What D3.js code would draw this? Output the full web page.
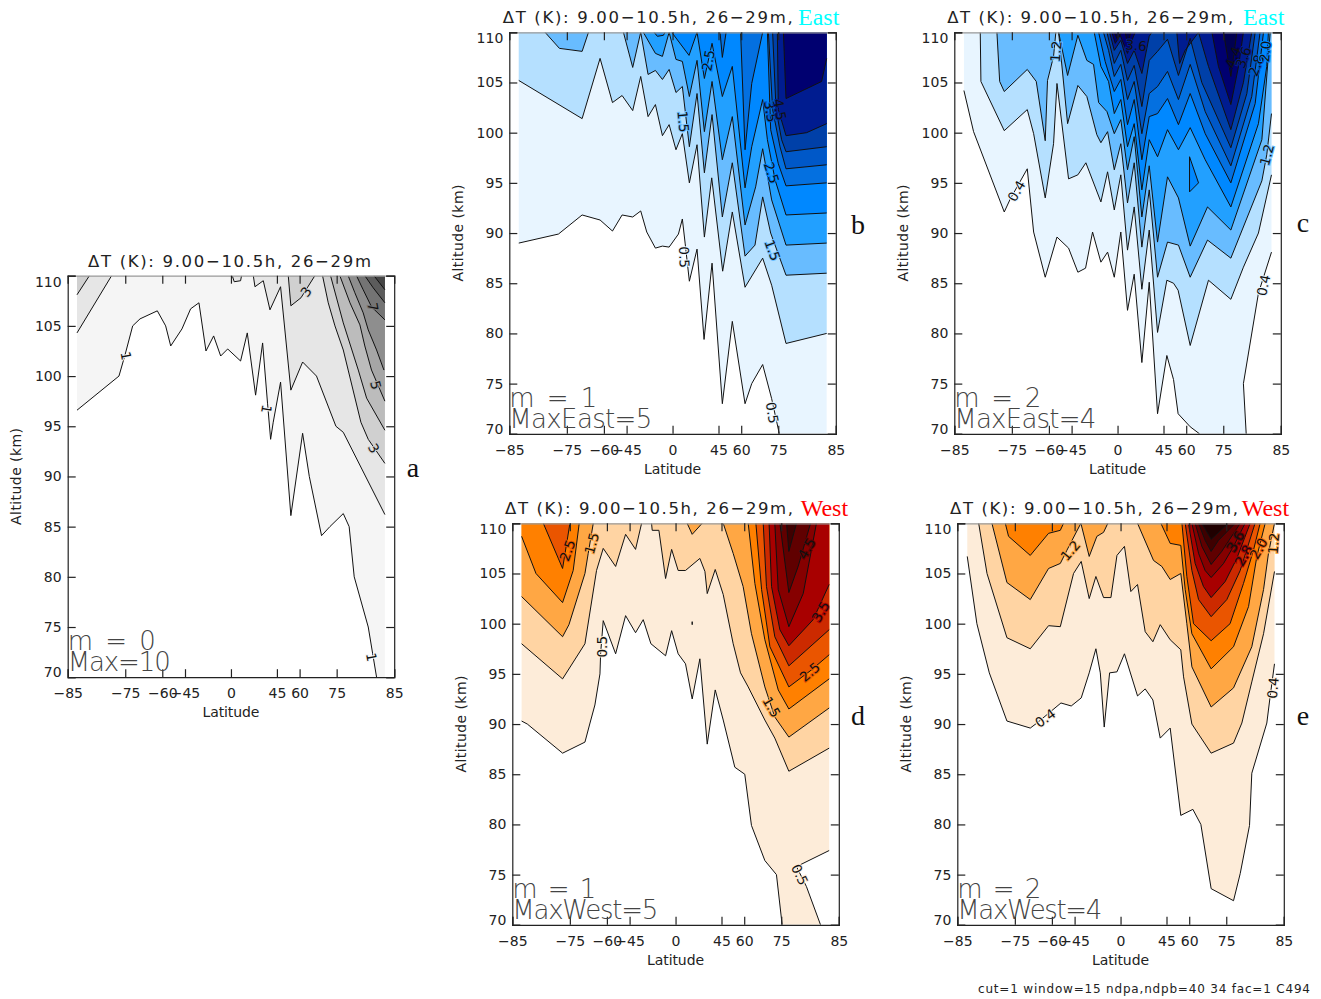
<!DOCTYPE html>
<html>
<head>
<meta charset="utf-8">
<script src="https://cdn.jsdelivr.net/npm/d3@7"></script>
<style>
  body { margin: 0; background: #fff; }
  text { font-family: "DejaVu Sans", sans-serif; fill: #222; }
  .serif { font-family: "Liberation Serif", serif; }
  .big { font-family: "DejaVu Sans", sans-serif; font-weight: 200; fill: #444; font-size: 26px; }
  .clab { font-size: 13.5px; stroke-width: 2px; paint-order: stroke; fill: #111; }
  .tick text { font-size: 14px; }
  .tick line, .domain { stroke: #222; stroke-width: 1.2px; }
  .topaxis .domain { stroke: #999; }
</style>
</head>
<body>
<svg id="chart" width="1321" height="999"></svg>
<script>
// Latitude axis is Mercator stretched: contour points are [stretched latitude (% of 85 deg), altitude km]
const latTicks = [-85, -75, -60, -45, 0, 45, 60, 75, 85];
const altTicks = [70, 75, 80, 85, 90, 95, 100, 105, 110];

const grays = ['#ffffff', '#f5f5f5', '#e6e6e6', '#d0d0d0', '#bcbcbc', '#a6a6a6', '#8e8e8e', '#747474', '#5c5c5c', '#454545'];
const blues = ['#ffffff', '#e8f5ff', '#b5e0ff', '#68bcff', '#22a0ff', '#0088ff', '#0470e0', '#0058c8', '#0040a8', '#001c90', '#000070', '#000050'];
const oranges = ['#ffffff', '#fdecd9', '#ffd4a3', '#ffa744', '#ff8000', '#ea5500', '#cc2a00', '#a80000', '#860000', '#600000', '#3f0000', '#200000'];

const levelsA = [1, 2, 3, 4, 5, 6, 7, 8, 9];
const contoursA = [
  [[-94.3,96.6],[-68.6,100],[-64.9,102.1],[-60.2,105],[-55.7,105.7],[-45.1,106.5],[-40,105],[-36.9,103],[-30,104.7],[-24.7,106.7],[-19.6,107.3],[-15.3,102.5],[-10.6,104],[-6.3,102],[-2,102.7],[5.9,101.5],[10,104.3],[15.1,98.1],[19.4,103.3],[22.4,97.3],[24.3,93.7],[25.9,95.4],[30.4,99.4],[36.7,86.1],[43.9,94.3],[48,90],[55.5,84.1],[60.6,85],[68.8,86.3],[72.4,85],[75.5,80],[84.1,75],[89.2,70]],
  [[-94.3,104.3],[-73.1,110],[0.8,110],[2,109.4],[5.9,109.5],[6.5,110],[13.7,110],[14.7,108.9],[19.8,109.5],[23.9,106.6],[30.4,108.9],[36.7,98.6],[43.9,101.4],[52.4,100],[64.3,95],[68.8,94.4],[94.3,86.2]],
  [[-94.3,108.1],[-86.7,110],[35.1,110],[36.7,107],[42.9,107.8],[51.4,110],[56.1,110],[59.6,107.3],[63.7,105],[68.8,102.6],[71.8,100.6],[79.6,95.4],[84.1,93.7],[94.3,91.3]],
  [[61,110],[68.8,105.3],[78,100.6],[83.1,97.8],[94.3,94.6]],
  [[66.7,110],[72.9,107.3],[79,105.1],[82,103],[86.1,100.6],[94.3,97.5]],
  [[71.8,110],[75.9,108.3],[81,106.3],[84.1,104.6],[89.2,102.6],[93.7,100.6]],
  [[76.9,110],[81,108.6],[86.1,106.9],[94.3,105.6]],
  [[82,110],[87.1,108.8],[94.3,107.3]],
  [[87.6,110],[94.3,108.6]]
];
const labelsA = [['1',-64.3,102,80],['1',21.8,96.7,100],['3',45.9,108.4,-55],['3',87.6,92.8,60],['5',88.8,99.1,75],['7',87.1,106.9,80],['1',86.1,72,80]];

const levelsB = [0.5, 1, 1.5, 2, 2.5, 3, 3.5, 4, 4.5, 5];
const contoursB = [
  [[-94.2,89],[-69.9,89.9],[-55.4,91.8],[-44.4,91.3],[-36.8,90.2],[-30.9,91.8],[-24.4,91.6],[-19.5,92.2],[-15.8,90.1],[-10.5,88.5],[-6.2,88.7],[-2.1,88.6],[3.6,89.9],[6,91.4],[7.7,89],[10.3,85.2],[15,88.4],[19.3,79.4],[24.2,87],[30.5,73],[36.6,81.2],[44.4,73],[48.5,75],[55.2,76.9],[60.7,73.5],[65.4,70]],
  [[-94.2,105.2],[-55.4,101.4],[-44.4,107.4],[-36.8,103],[-30.9,103.7],[-24.4,102.2],[-19.5,105.6],[-15,101.6],[-10.5,102.8],[-6.2,99.7],[-2.1,100.8],[2.1,98.3],[6,99.9],[10.3,95],[15,98.8],[19.5,89.6],[24,95.5],[30.7,86.2],[36.6,92.1],[44.4,84.6],[55.2,87.5],[60.7,84.8],[69.5,79],[94.4,80]],
  [[-78.1,110],[-69.3,108.4],[-55.4,108.1],[-51.5,110],[-30.1,110],[-24.4,106.5],[-19.5,110],[-15,105.8],[-10.5,106.2],[-6.2,105.3],[-2.1,106.3],[2.1,104],[6,104.6],[10.3,98.6],[15,103.9],[19.5,96],[24.2,101.8],[30.5,91.6],[36.6,97],[44.4,87.7],[50.5,88.8],[55.2,93.6],[60.1,90],[69.5,85.8],[94.4,86]],
  [[-17.9,110],[-10.5,107.9],[-6.2,107.6],[-2.1,110],[2.1,107.3],[6,107.1],[10.3,103.6],[15,107.2],[19.5,100.1],[24.2,105.1],[30.5,97.3],[36.6,101.6],[44.4,90.8],[50.9,94.6],[55.2,98.4],[60.7,93.3],[69.5,88.8],[94.4,89]],
  [[-11.3,110],[-9.3,109.6],[-5.6,109.7],[-4.6,110],[-0.5,110],[10.1,107.7],[15,110],[19.5,105.4],[24.2,108.9],[30.5,103.6],[36.6,106.6],[44.4,94.5],[48.5,98.6],[55.2,103.3],[58.1,99.3],[62.8,95.3],[69.5,91.8],[94.4,92]],
  [[29.1,110],[30.5,107.5],[32.8,110],[41.7,110],[44.4,98.3],[48.5,104.9],[55.2,110],[58.1,110],[60.1,100.3],[64.8,96.9],[69.5,94.7],[94.4,95]],
  [[58.7,110],[61.3,102.3],[65.8,98.6],[69.5,96.4],[94.4,96.8]],
  [[61.3,110],[63.4,102.3],[66.8,99.3],[69.5,98.1],[94.4,98.6]],
  [[64.2,110],[64.8,102.3],[69.5,99.7],[82.1,100],[94.4,100.9]],
  [[67.9,110],[69.5,103.4],[91.3,105.1],[94.4,107.4]]
];
const labelsB = [['0.5',7.2,87.6,88],['1.5',6.6,101.1,85],['2.5',21.9,107.2,-80],['3.5',60.1,102.1,80],['4.5',65.8,102.3,80],['2.5',60.7,96,72],['1.5',61.3,88.3,70],['0.5',61.1,72.1,80]];

const levelsC = [0.4, 0.8, 1.2, 1.6, 2.0, 2.4, 2.8, 3.2, 3.6, 4.0, 4.4];
const contoursC = [
  [[-94.1,104.2],[-88.2,100.1],[-69.4,92.1],[-65.7,93.4],[-55.3,96.4],[-51.4,90.1],[-44.3,85.6],[-37.1,89.6],[-30,88.5],[-24.3,86.1],[-19.6,86.5],[-15.3,90.1],[-10.2,87.1],[-6.1,88.1],[-2,85.6],[2,90.1],[6.1,82.3],[10.2,85.9],[14.9,77.1],[19.4,85.1],[24.5,72],[30.2,77.8],[34.3,75.4],[37.1,72],[44.5,70.7],[50.2,70],[78.8,70],[77.1,75],[86.3,84],[94.3,88.1]],
  [[-84.1,110],[-83.7,105.1],[-69.4,100.2],[-55.3,102.3],[-51.4,99.9],[-44.3,93.5],[-39.2,98.9],[-37.1,104.9],[-30,95.4],[-24.3,95.8],[-19.4,97],[-10.2,93.1],[-6.1,96.1],[-2,92.3],[2,95.8],[6.1,88.3],[10.2,92.6],[14.9,84.4],[19.4,90.3],[24.5,80.1],[30.2,85.3],[34.3,85],[37.1,84.3],[44.5,78.8],[55.7,85.3],[69.4,83.4],[77.1,86.6],[86.3,90],[94.3,95.8]],
  [[-73.9,110],[-72.2,105.1],[-69.4,104.1],[-55.3,106.3],[-49.8,105.1],[-44.3,99.2],[-42.9,105.2],[-39.2,107.6],[-37.8,110],[-36.1,110],[-30.6,100.9],[-24.3,104.7],[-18.8,103.6],[-12.7,99.8],[-10.2,99],[-6.1,100.1],[-2,96.3],[2,98.9],[6.1,93],[10.2,97],[14.9,88.6],[19.4,94.3],[24.5,85.6],[30.6,89.1],[37.3,88.8],[44.5,85.6],[55.1,89.3],[69.4,87.5],[88.4,95.2],[91.4,97.8],[94.3,101.9]],
  [[-36.1,110],[-30.6,105.7],[-24.3,109.7],[-18.8,107.2],[-14.7,106.8],[-11.6,103],[-6.5,102.1],[-2,99.9],[2,101.3],[6.1,96.3],[10.2,99.6],[14.9,91.6],[19.4,96.7],[24.5,89.1],[30.6,95.6],[37.3,93.5],[44.5,88.7],[55.1,92.6],[69.4,90.3],[88.4,99.3],[93.5,110]],
  [[-14.3,110],[-10.2,106.6],[-5.5,105.1],[-2,101.9],[2,103.3],[6.1,98.6],[10.2,100.9],[14.9,94.3],[19.4,99.3],[24.5,97.6],[30.6,100.3],[37.3,98.3],[44.5,100.5],[53.7,97.3],[69.4,92.6],[86.3,100.9],[91.4,106.6],[92.4,110]],
  [[-11.6,110],[-7.6,107.1],[-2,104.1],[2,105.3],[6.1,100.8],[10.2,103.3],[14.9,97.3],[19.4,101.6],[24.5,101.9],[30.6,103.4],[37.3,100.8],[44.5,103.9],[53.7,99.9],[69.4,95],[84.3,102.9],[89.4,110]],
  [[-8.6,110],[-5.5,108.2],[-2,105.6],[2,106.8],[6.1,103.3],[10.2,105.1],[14.9,99.9],[19.4,103.9],[24.5,104.6],[30.6,106.1],[37.3,103.3],[44.5,106.8],[53.7,102.1],[69.4,96.7],[82.2,103.6],[87.3,110]],
  [[-6.5,110],[-2,106.9],[2,108.2],[6.1,105.2],[10.2,106.7],[14.9,102.6],[19.4,107.2],[24.5,108.1],[30.6,109.3],[37.3,105.7],[44.5,109.4],[51.6,105],[69.4,98.5],[79.2,103.9],[84.3,110]],
  [[-4.9,110],[-2,108.2],[2,109.2],[6.1,106.9],[10.2,108.2],[14.9,105.9],[19.4,109.6],[21,110],[36.3,110],[38,106.9],[41.4,108.2],[49.6,110],[55.7,106.6],[69.4,100.3],[77.1,105],[82.2,110]],
  [[-3.5,110],[-1.4,108.9],[1.6,109.7],[6.1,107.9],[8.8,109.2],[10.8,110],[57.8,110],[61.8,106.6],[69.4,102.8],[74.1,106.6],[77.1,110]],
  [[-2,110],[-0.4,109.4],[2.7,110],[4.7,110],[6.1,108.9],[8.2,110],[64.9,110],[69.4,105.6],[73.1,110]]
];
const islandsC = [[2, 4, [[44.1,97.6],[49.6,95],[44.1,94.1]]]];
const labelsC = [['0.4',-62,94.2,-60],['1.2',-37.8,108.1,-85],['3.6',11.4,108.7,5],['4.4',71,107.5,-70],['3.6',77.1,107.5,-70],['2.8',84.9,106.7,-70],['2.0',90.4,108.1,-85],['1.2',91.4,97.8,-75],['0.4',89.4,84.8,-78]];

const contoursD = [
  [[-94.3,90.3],[-90.8,90],[-69.2,87.1],[-55.5,88.2],[-52.4,90.1],[-49.4,91.9],[-46.3,95],[-45.9,97],[-44.3,100.3],[-36.7,97],[-30.6,100.8],[-24.5,99.1],[-19.8,100.4],[-15.1,98],[-6.1,96.8],[-2.4,99.3],[1.6,97],[6.1,96],[10.2,92.5],[14.9,96.5],[19.4,88],[24.3,93.4],[29.2,90.4],[36.3,85.7],[42.4,85],[46.5,79.9],[54.7,76.4],[61.8,75],[65.3,70],[88.8,70],[80.2,73.8],[74.1,75.8],[94.1,77.4]],
  [[-94.3,98],[-69.2,94.5],[-55.5,98],[-48.4,105.3],[-44.3,107.5],[-36.7,105.7],[-30.6,108.9],[-24.5,107.4],[-20.8,110],[-14.7,110],[-14.3,109.3],[-10.2,109.3],[-6.1,104.5],[-2.4,107.4],[1.6,105.3],[6.1,105.3],[14.9,106.5],[18,105.2],[19.4,103],[24.3,105.4],[29.2,102.9],[35.3,98],[39.8,95.1],[44.5,93.7],[54.7,90.4],[60.8,88.6],[69.4,85.3],[94.1,87.6]],
  [[-94.3,102.7],[-69.2,98.7],[-65.3,99.9],[-55.5,105],[-53.5,107],[-50.4,110],[7.1,110],[10.2,108.9],[16.3,110],[29.2,110],[35.3,107],[41.4,103.7],[46.5,99],[54.7,93.7],[60.8,90.7],[69.4,88.7],[94.1,91.6]],
  [[-94.3,108.7],[-85.5,105],[-69.2,102.1],[-62.7,105.3],[-59,110],[44.5,110],[48.6,104],[54.7,98.4],[62.9,93.4],[69.4,91.5],[94.1,94.5]],
  [[-81,110],[-69.2,105.5],[-64.7,110],[49.2,110],[52.7,103.4],[57.8,97.7],[69.4,93.7],[83.3,95.4],[94.1,96.9]],
  [[53.7,110],[55.7,103.7],[60.8,98.7],[69.4,95.8],[94.1,99.4]],
  [[57.3,110],[58.8,103.7],[63.9,99.4],[69.4,97.8],[84.3,100.4],[94.1,103.9]],
  [[60.8,110],[62.9,103.4],[69.4,99.7],[78.2,103],[86.3,110]],
  [[63.9,110],[69.4,103.1],[75.1,105.7],[82.7,110]],
  [[68,110],[69.4,107.2],[74.1,110]]
];
const islandsD = [[0, 0, [[10.2,100.2],[10.2,99.9]]]];
const labelsD = [['2.5',-66.3,107.3,-70],['1.5',-51.4,108,-75],['0.5',-44.7,97.7,-90],['4.5',80.2,107.5,-60],['3.5',88.8,101.2,-60],['2.5',82.2,95.2,-40],['1.5',58.8,91.7,60],['0.5',76.1,75,65]];

const contoursE = [
  [[-93.9,106.7],[-88,100],[-80.4,95.1],[-69.6,90.3],[-55.3,89.6],[-51.2,90.1],[-36.5,92.1],[-30.2,91.8],[-24.1,92.6],[-19.2,95.1],[-15.1,97.5],[-12.4,95.1],[-10,89.7],[-6.7,95.1],[-2.2,95.2],[2.4,97],[10.4,92.8],[15.1,93.5],[19.8,92.4],[24.3,88.6],[30.4,89.6],[36.9,80.9],[44.3,81.5],[49.2,80],[55.5,73.6],[69.2,72.4],[73.3,75.1],[79,79.9],[80.4,85.1],[89.6,90.1],[91.6,92.7],[94.3,96]],
  [[-86.9,110],[-81.8,105],[-69.6,98.6],[-55.3,97.5],[-44.1,99.8],[-36.9,99.7],[-28.8,105],[-24.1,106.2],[-19.2,102.5],[-15.1,104.7],[-10.4,102.6],[-5.9,102.6],[-2.2,106.8],[2.4,107.7],[6.3,103.2],[10.4,103.9],[15.1,99.2],[19.8,98.2],[24.3,99.9],[30.4,98.4],[36.9,97.4],[38.6,94.7],[43.7,90],[55.5,87.1],[69.2,88.1],[74.3,90.1],[80.4,94.2],[87.6,99],[94.3,105.2]],
  [[-78.8,110],[-69.6,104.1],[-55.3,102.4],[-44.1,105.5],[-36.9,106],[-32.9,107.3],[-24.3,110],[-19.2,106.7],[-14.5,108.7],[-10.4,109.1],[-7.8,110],[10.4,110],[20.2,106.3],[25.3,105.7],[30.4,104.4],[36.9,105],[40.6,100],[43.7,95.7],[55.5,91.7],[69.2,93.6],[80.4,97.7],[87.6,103.4],[90.6,107],[94.3,110]],
  [[-70.6,110],[-68.6,108.7],[-55.3,106.8],[-44.1,109],[-36.9,109.3],[-34.9,110],[24.7,110],[30.4,108],[36.9,107.8],[39.6,103.4],[43.7,99],[55.5,95.5],[69.2,97.7],[78.4,101.7],[83.5,106.7],[88.6,110]],
  [[37.6,110],[40.6,104.7],[44.7,100],[55.5,98.3],[67.1,100],[75.3,104],[81.4,107.3],[85.5,110]],
  [[39.6,110],[43.7,105.3],[47.8,102.4],[55.5,100.7],[65.1,102.4],[73.3,105.3],[82.4,110]],
  [[41.6,110],[45.7,106],[50.8,103.7],[55.5,102.6],[64.1,104.2],[71.2,106.5],[79.4,110]],
  [[43.7,110],[47.8,107],[51.8,105.3],[55.5,104.6],[63.1,106],[69.2,107.7],[76.3,110]],
  [[45.7,110],[49.8,107.7],[55.5,105.9],[62,107.2],[73.3,110]],
  [[47.8,110],[51.8,108.3],[55.5,107.2],[60,108.3],[70.2,110]],
  [[49.8,110],[55.5,108.4],[66.1,110]]
];
const labelsE = [['1.2',-30.8,107.3,-50],['0.4',-46.1,90.6,-35],['3.6',70.2,108.2,-60],['2.8',75.3,106.8,-60],['2.0',84.5,107.5,-60],['1.2',93.7,108,-85],['0.4',93.3,93.6,-85]];

const panels = [
  { id: 'a', left: 67.7, top: 275.7, levels: levelsA, contours: contoursA, labels: labelsA, colors: grays, islands: [],
    title: 'ΔT (K): 9.00−10.5h, 26−29m', titleX: 88, titleW: 283, m: 'm  =  0', mW: 88, max: 'Max=10', maxW: 103, side: [413, 477] },
  { id: 'b', left: 509.3, top: 32.3, levels: levelsB, contours: contoursB, labels: labelsB, colors: blues, islands: [],
    title: 'ΔT (K): 9.00−10.5h, 26−29m,', titleX: 502.7, titleW: 290, dir: 'East', dirX: 798, m: 'm  =  1', mW: 88, max: 'MaxEast=5', maxW: 143, side: [858, 234] },
  { id: 'c', left: 954.3, top: 32.3, levels: levelsC, contours: contoursC, labels: labelsC, colors: blues, islands: islandsC,
    title: 'ΔT (K): 9.00−10.5h, 26−29m,', titleX: 947.3, titleW: 286, dir: 'East', dirX: 1243, m: 'm  =  2', mW: 87, max: 'MaxEast=4', maxW: 142, side: [1303, 232] },
  { id: 'd', left: 512.3, top: 523.3, levels: levelsB, contours: contoursD, labels: labelsD, colors: oranges, islands: islandsD,
    title: 'ΔT (K): 9.00−10.5h, 26−29m,', titleX: 505, titleW: 288, dir: 'West', dirX: 800.7, m: 'm  =  1', mW: 84, max: 'MaxWest=5', maxW: 146, side: [858, 725] },
  { id: 'e', left: 957.3, top: 523.3, levels: levelsC, contours: contoursE, labels: labelsE, colors: oranges, islands: [],
    title: 'ΔT (K): 9.00−10.5h, 26−29m,', titleX: 950, titleW: 288, dir: 'West', dirX: 1241.7, m: 'm  =  2', mW: 84, max: 'MaxWest=4', maxW: 145, side: [1303, 725] }
];

const width = 326.5;
const height = 401.5;
const merc = (lat) => Math.log(Math.tan(Math.PI / 4 + (Math.abs(lat) * Math.PI) / 360));
const stretch = (lat) => (Math.sign(lat) * merc(lat) * 100) / merc(85);

const svg = d3.select('#chart');

function drawPanel(p) {
  const x = d3.scaleLinear().domain([-100, 100]).range([0, width]);
  const y = d3.scaleLinear().domain([70, 110]).range([height, 0]);
  const g = svg.append('g').attr('transform', `translate(${p.left},${p.top})`);

  g.append('clipPath').attr('id', 'clip-' + p.id)
    .append('rect').attr('width', width).attr('height', height);
  const plot = g.append('g').attr('clip-path', `url(#clip-${p.id})`);

  // the data stop short of the frame on the right, so the fill does too
  const edgeR = d3.max(p.contours.flat(), (d) => d[0]);
  const area = d3.line().x((d) => x(d[0])).y((d) => y(d[1]));

  // each level: polygon from its contour up to the top of the plot, painted low to high
  p.contours.forEach((pts, i) => {
    const last = pts[pts.length - 1];
    const poly = [...pts, [edgeR, last[1]], [edgeR, 110], [pts[0][0], 110]];
    plot.append('path').attr('d', area(poly) + 'Z').attr('fill', p.colors[i + 1]);
    p.islands.filter((s) => s[1] === i).forEach((s) => {
      plot.append('path').attr('d', area(s[2]) + 'Z').attr('fill', p.colors[s[0] + 3]);
    });
  });

  // lines, without the runs lying on the top and bottom edges
  p.contours.forEach((pts) => {
    let run = [pts[0]];
    const flush = () => {
      if (run.length > 1) plot.append('path').attr('d', area(run)).attr('fill', 'none').attr('stroke', '#111').attr('stroke-width', 1);
    };
    for (let k = 1; k < pts.length; k++) {
      const onEdge = pts[k][1] === pts[k - 1][1] && (pts[k][1] === 110 || pts[k][1] === 70);
      if (onEdge) { flush(); run = []; }
      run.push(pts[k]);
    }
    flush();
  });
  p.islands.forEach((s) => {
    plot.append('path').attr('d', area(s[2]) + 'Z').attr('fill', 'none').attr('stroke', '#111').attr('stroke-width', 1);
  });

  // contour labels
  p.labels.forEach(([txt, u, alt, rot]) => {
    g.append('text').attr('class', 'clab')
      .attr('transform', `translate(${x(u)},${y(alt)}) rotate(${rot})`)
      .attr('text-anchor', 'middle').attr('dy', '0.36em')
      .attr('stroke', p.colors[p.levels.indexOf(+txt) + 1])
      .text(txt);
  });

  // axes, ticks pointing inward on all four sides
  const xt = latTicks.map(stretch);
  const fmtLat = (d, i) => String(latTicks[i]).replace('-', '−');
  g.append('g').attr('transform', `translate(0,${height})`)
    .call(d3.axisBottom(x).tickValues(xt).tickSize(-8).tickPadding(11).tickFormat(fmtLat));
  g.append('g').attr('class', 'topaxis')
    .call(d3.axisTop(x).tickValues(xt).tickSize(-8).tickFormat(''));
  const yl = g.append('g')
    .call(d3.axisLeft(y).tickValues(altTicks).tickSize(-8).tickPadding(6));
  yl.selectAll('.tick text').attr('dy', (d) => (d === 110 ? '0.75em' : d === 70 ? '-0.05em' : '0.32em'));
  g.append('g').attr('transform', `translate(${width},0)`)
    .call(d3.axisRight(y).tickValues(altTicks).tickSize(-8).tickFormat(''));

  g.append('text').attr('x', width / 2).attr('y', height + 40).attr('text-anchor', 'middle')
    .attr('font-size', 14).attr('textLength', 57).text('Latitude');
  g.append('text').attr('transform', `translate(-46.7,${height / 2}) rotate(-90)`)
    .attr('text-anchor', 'middle').attr('font-size', 14).attr('textLength', 97).text('Altitude (km)');

  g.append('text').attr('class', 'big').attr('x', 0).attr('y', height - 27).attr('textLength', p.mW)
    .attr('xml:space', 'preserve').style('white-space', 'pre').text(p.m);
  g.append('text').attr('class', 'big').attr('x', 0).attr('y', height - 6).attr('textLength', p.maxW).text(p.max);

  svg.append('text').attr('x', p.titleX).attr('y', p.top - 9).attr('font-size', 16.5)
    .attr('textLength', p.titleW).text(p.title);
  if (p.dir) {
    svg.append('text').attr('class', 'serif').attr('x', p.dirX).attr('y', p.top - 7.5)
      .attr('font-size', 24).style('fill', p.dir === 'East' ? '#00ffff' : '#ff0000').text(p.dir);
  }
  svg.append('text').attr('class', 'serif').attr('x', p.side[0]).attr('y', p.side[1])
    .attr('text-anchor', 'middle').attr('font-size', 28).style('fill', '#111').text(p.id);
}

panels.forEach(drawPanel);

svg.append('text').attr('x', 978).attr('y', 993).attr('font-size', 12)
  .attr('textLength', 332).text('cut=1 window=15 ndpa,ndpb=40 34 fac=1 C494');
</script>
</body>
</html>
